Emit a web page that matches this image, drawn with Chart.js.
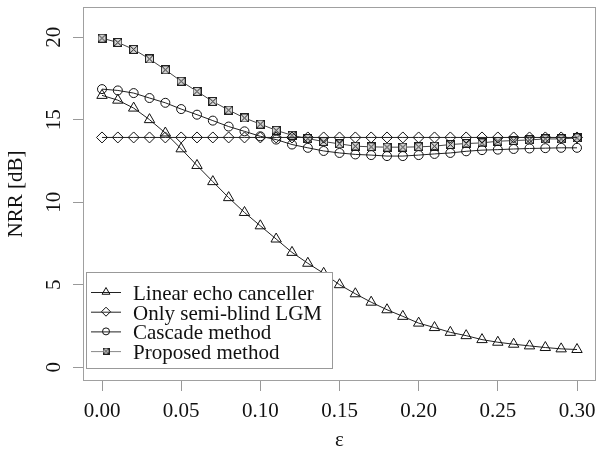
<!DOCTYPE html>
<html>
<head>
<meta charset="utf-8">
<script src="https://cdn.jsdelivr.net/npm/chart.js@4.4.1/dist/chart.umd.min.js"></script>
<style>
  html, body { margin: 0; padding: 0; background: #fff; }
  #wrap { width: 603px; height: 463px; }
</style>
</head>
<body>
<div id="wrap"><canvas id="nrrChart" width="603" height="463"></canvas></div>
<script>
// Data (NRR in dB against epsilon)
const epsilon = [0.00, 0.01, 0.02, 0.03, 0.04, 0.05, 0.06, 0.07, 0.08, 0.09, 0.10,
                 0.11, 0.12, 0.13, 0.14, 0.15, 0.16, 0.17, 0.18, 0.19, 0.20,
                 0.21, 0.22, 0.23, 0.24, 0.25, 0.26, 0.27, 0.28, 0.29, 0.30];
const linearEcho = [16.48, 16.19, 15.71, 15.01, 14.20, 13.24, 12.23, 11.25, 10.28, 9.38, 8.57,
                    7.77, 6.96, 6.30, 5.69, 5.00, 4.45, 3.94, 3.48, 3.08, 2.67,
                    2.40, 2.11, 1.91, 1.67, 1.51, 1.39, 1.29, 1.19, 1.11, 1.07];
const semiBlind = [13.93, 13.93, 13.93, 13.93, 13.93, 13.93, 13.93, 13.93, 13.93, 13.93, 13.93,
                   13.93, 13.93, 13.93, 13.93, 13.93, 13.93, 13.93, 13.93, 13.93, 13.93,
                   13.93, 13.93, 13.93, 13.93, 13.93, 13.93, 13.93, 13.93, 13.93, 13.93];
const cascade = [16.86, 16.78, 16.62, 16.32, 16.03, 15.65, 15.31, 14.95, 14.59, 14.30, 14.00,
                 13.80, 13.50, 13.30, 13.11, 12.99, 12.90, 12.86, 12.80, 12.80, 12.86,
                 12.93, 12.99, 13.09, 13.16, 13.19, 13.23, 13.26, 13.28, 13.30, 13.30];
const proposed = [19.95, 19.69, 19.27, 18.69, 18.03, 17.34, 16.72, 16.11, 15.59, 15.11, 14.74,
                  14.36, 14.06, 13.86, 13.68, 13.54, 13.40, 13.36, 13.34, 13.34, 13.36,
                  13.40, 13.50, 13.56, 13.60, 13.70, 13.74, 13.78, 13.84, 13.84, 13.90];
const seriesNames = ['Linear echo canceller', 'Only semi-blind LGM', 'Cascade method', 'Proposed method'];
const xTicks = [0.00, 0.05, 0.10, 0.15, 0.20, 0.25, 0.30];
const yTicks = [0, 5, 10, 15, 20];

const serif = "'Liberation Serif', 'Times New Roman', serif";

// square with a cross inside, used as the marker of the proposed method
function crossBox(size) {
  const c = document.createElement('canvas');
  c.width = size; c.height = size;
  const g = c.getContext('2d');
  g.fillStyle = '#d4d4d4';
  g.fillRect(0.5, 0.5, size - 1, size - 1);
  g.strokeStyle = '#222';
  g.lineWidth = 1;
  g.strokeRect(0.5, 0.5, size - 1, size - 1);
  g.beginPath();
  g.moveTo(1, 1); g.lineTo(size - 1, size - 1);
  g.moveTo(size - 1, 1); g.lineTo(1, size - 1);
  g.stroke();
  return c;
}

const toPoints = ys => ys.map((y, i) => ({x: epsilon[i], y: y}));

const styles = [
  {pointStyle: 'triangle', radius: 6, legendRadius: 4.5, line: '#222'},
  {pointStyle: 'rectRot', radius: 5.5, legendRadius: 4.5, line: '#222'},
  {pointStyle: 'circle', radius: 4.5, legendRadius: 3.5, line: '#222'},
  {pointStyle: crossBox(9), legendStyle: crossBox(7), radius: 4.5, legendRadius: 3.5, line: '#444', legendLine: '#888'}
];

const allSeries = [linearEcho, semiBlind, cascade, proposed];

const datasets = allSeries.map((ys, i) => ({
  label: seriesNames[i],
  data: toPoints(ys),
  borderColor: styles[i].line,
  borderWidth: 1,
  pointStyle: styles[i].pointStyle,
  pointRadius: styles[i].radius,
  pointBorderColor: '#111',
  pointBackgroundColor: 'rgba(0,0,0,0)',
  pointBorderWidth: 1,
  tension: 0
}));

// frame round the plot area and the boxed legend in the lower left
const framePlugin = {
  id: 'frameAndLegend',
  afterDatasetsDraw(chart) {
    const ctx = chart.ctx;
    const a = chart.chartArea;
    ctx.save();
    ctx.strokeStyle = '#a0a0a0';
    ctx.lineWidth = 1;
    ctx.strokeRect(a.left + 0.5, a.top + 0.5, a.right - a.left - 1, a.bottom - a.top - 1);

    const bx = a.left + 3, by = a.bottom - 109, bw = 246, bh = 96;
    ctx.fillStyle = '#fff';
    ctx.fillRect(bx, by, bw, bh);
    ctx.strokeStyle = '#999';
    ctx.strokeRect(bx + 0.5, by + 0.5, bw, bh);

    ctx.font = '21px ' + serif;
    ctx.textBaseline = 'alphabetic';
    ctx.textAlign = 'left';
    seriesNames.forEach((name, i) => {
      const base = by + 28 + i * 19.7;
      const ly = base - 8;
      const st = styles[i];
      ctx.strokeStyle = st.legendLine || '#222';
      ctx.beginPath();
      ctx.moveTo(bx + 5, ly + 0.5);
      ctx.lineTo(bx + 35, ly + 0.5);
      ctx.stroke();
      ctx.strokeStyle = '#111';
      ctx.fillStyle = 'rgba(0,0,0,0)';
      Chart.helpers.drawPoint(ctx, {
        pointStyle: st.legendStyle || st.pointStyle,
        rotation: 0,
        radius: st.legendRadius,
        borderWidth: 1
      }, bx + 20, ly);
      ctx.fillStyle = '#111';
      ctx.fillText(name, bx + 47, base);
    });
    ctx.restore();
  }
};

new Chart(document.getElementById('nrrChart'), {
  type: 'line',
  data: {datasets: datasets},
  options: {
    responsive: false,
    animation: false,
    devicePixelRatio: 1,
    layout: {padding: {top: 5, right: 1, left: 0, bottom: 0}},
    plugins: {legend: {display: false}, tooltip: {enabled: false}},
    scales: {
      x: {
        type: 'linear',
        min: -0.012,
        max: 0.312,
        afterBuildTicks: axis => { axis.ticks = xTicks.map(v => ({value: v})); },
        afterFit: axis => { axis.height = 82; axis.paddingLeft = 0; axis.paddingRight = 0; },
        grid: {drawOnChartArea: false, drawTicks: true, tickLength: 10, tickColor: '#999'},
        border: {display: false},
        ticks: {
          autoSkip: false,
          maxRotation: 0,
          padding: 8,
          color: '#111',
          font: {family: serif, size: 21},
          callback: v => Number(v).toFixed(2)
        },
        title: {display: true, text: 'ε', color: '#111', font: {family: serif, size: 21}, padding: {bottom: 10}}
      },
      y: {
        min: -0.84,
        max: 21.84,
        afterBuildTicks: axis => { axis.ticks = yTicks.map(v => ({value: v})); },
        afterFit: axis => { axis.width = 83; axis.paddingTop = 0; axis.paddingBottom = 0; },
        grid: {drawOnChartArea: false, drawTicks: true, tickLength: 10, tickColor: '#999'},
        border: {display: false},
        ticks: {
          autoSkip: false,
          minRotation: 90,
          maxRotation: 90,
          crossAlign: 'center',
          padding: 8,
          color: '#111',
          font: {family: serif, size: 21},
          callback: v => String(v)
        },
        title: {display: true, text: 'NRR [dB]', color: '#111', font: {family: serif, size: 21}, padding: {top: 4}}
      }
    }
  },
  plugins: [framePlugin]
});
</script>
</body>
</html>
